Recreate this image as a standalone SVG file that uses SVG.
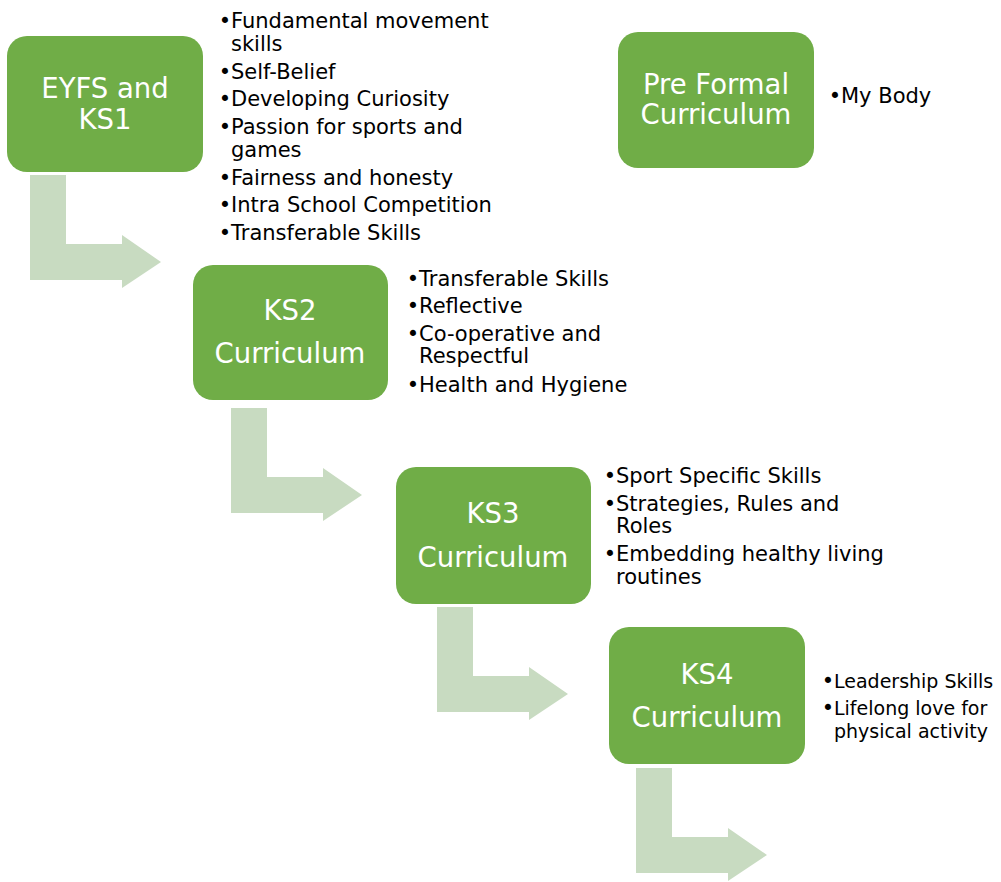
<svg xmlns="http://www.w3.org/2000/svg" width="1001" height="882" viewBox="0 0 1001 882">
<defs>
<style>
.box{fill:#70AD47}
.arr{fill:#C8DBC1}
.lbl{font-family:"DejaVu Sans","Liberation Sans",sans-serif;font-size:27.5px;fill:#FFFFFF;text-anchor:middle}
.bt{font-family:"DejaVu Sans","Liberation Sans",sans-serif;font-size:21px;fill:#000000}
.bt.sm{font-size:19px}
.bul{font-family:"DejaVu Sans","Liberation Sans",sans-serif;font-size:21px;fill:#000000;text-anchor:middle}
</style>
<path id="bend" d="M0,0 H36 V69 H92 V60 L131,87 L92,113 V105 H0 Z"/>
</defs>
<rect width="1001" height="882" fill="#FFFFFF"/>
<g id="connectors">
<use href="#bend" class="arr" x="30" y="175"/>
<use href="#bend" class="arr" x="231" y="408"/>
<use href="#bend" class="arr" x="437" y="607"/>
<use href="#bend" class="arr" x="636" y="768"/>
</g>
<g id="eyfs">
<rect class="box" x="7" y="36" width="196" height="136" rx="20"/>
<text class="lbl" x="105" y="98">EYFS and</text>
<text class="lbl" x="105" y="129">KS1</text>
<text class="bul" x="225" y="28">•</text><text class="bt" x="231" y="28">Fundamental movement</text>
<text class="bt" x="231" y="51">skills</text>
<text class="bul" x="225" y="79">•</text><text class="bt" x="231" y="79">Self-Belief</text>
<text class="bul" x="225" y="106">•</text><text class="bt" x="231" y="106">Developing Curiosity</text>
<text class="bul" x="225" y="134">•</text><text class="bt" x="231" y="134">Passion for sports and</text>
<text class="bt" x="231" y="157">games</text>
<text class="bul" x="225" y="185">•</text><text class="bt" x="231" y="185">Fairness and honesty</text>
<text class="bul" x="225" y="212">•</text><text class="bt" x="231" y="212">Intra School Competition</text>
<text class="bul" x="225" y="240">•</text><text class="bt" x="231" y="240">Transferable Skills</text>
</g>
<g id="preformal">
<rect class="box" x="618" y="32" width="196" height="136" rx="20"/>
<text class="lbl" x="716" y="94">Pre Formal</text>
<text class="lbl" x="716" y="124">Curriculum</text>
<text class="bul" x="835" y="103">•</text><text class="bt" x="841" y="103">My Body</text>
</g>
<g id="ks2">
<rect class="box" x="193" y="265" width="195" height="135" rx="20"/>
<text class="lbl" x="290" y="320">KS2</text>
<text class="lbl" x="290" y="363">Curriculum</text>
<text class="bul" x="413" y="286">•</text><text class="bt" x="419" y="286">Transferable Skills</text>
<text class="bul" x="413" y="313">•</text><text class="bt" x="419" y="313">Reflective</text>
<text class="bul" x="413" y="341">•</text><text class="bt" x="419" y="341">Co-operative and</text>
<text class="bt" x="419" y="363">Respectful</text>
<text class="bul" x="413" y="392">•</text><text class="bt" x="419" y="392">Health and Hygiene</text>
</g>
<g id="ks3">
<rect class="box" x="396" y="467" width="195" height="137" rx="20"/>
<text class="lbl" x="493" y="523">KS3</text>
<text class="lbl" x="493" y="567">Curriculum</text>
<text class="bul" x="610" y="483">•</text><text class="bt" x="616" y="483">Sport Specific Skills</text>
<text class="bul" x="610" y="511">•</text><text class="bt" x="616" y="511">Strategies, Rules and</text>
<text class="bt" x="616" y="533">Roles</text>
<text class="bul" x="610" y="561">•</text><text class="bt" x="616" y="561">Embedding healthy living</text>
<text class="bt" x="616" y="584">routines</text>
</g>
<g id="ks4">
<rect class="box" x="609" y="627" width="196" height="137" rx="20"/>
<text class="lbl" x="707" y="684">KS4</text>
<text class="lbl" x="707" y="727">Curriculum</text>
<text class="bul" x="828" y="688">•</text><text class="bt sm" x="834" y="688">Leadership Skills</text>
<text class="bul" x="828" y="715">•</text><text class="bt sm" x="834" y="715">Lifelong love for</text>
<text class="bt sm" x="834" y="738">physical activity</text>
</g>
</svg>
